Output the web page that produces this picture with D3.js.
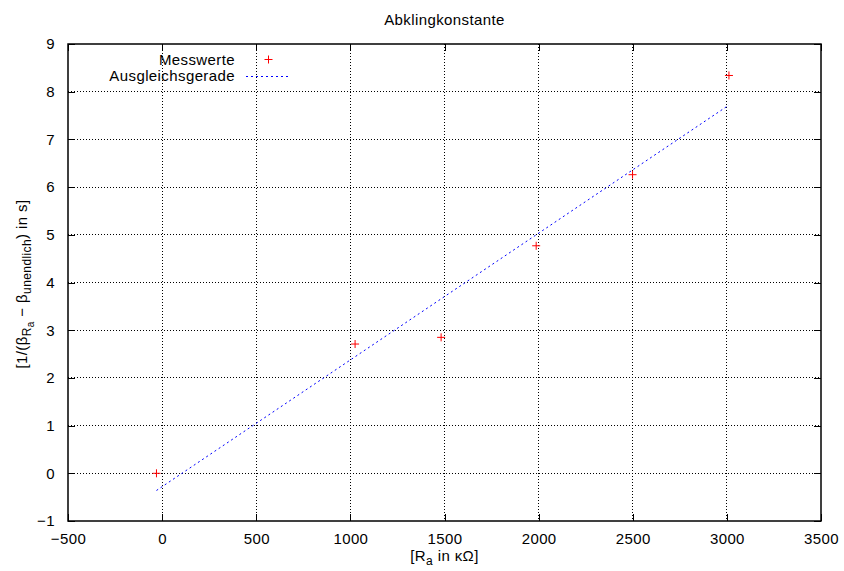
<!DOCTYPE html>
<html>
<head>
<meta charset="utf-8">
<script src="https://cdn.jsdelivr.net/npm/d3@7"></script>
<style>
	body{margin:0;background:#fff;}
	text{font-family:"Liberation Sans", Arial, Helvetica, sans-serif;font-size:15px;fill:#000;letter-spacing:0.4px;}
</style>
</head>
<body>
<div class="chart"></div>
<script>
//Data
const messR = [-30, 1025, 1482, 1987, 2499, 3011];
const messTau = [0, 2.71, 2.85, 4.77, 6.26, 8.34];
//ends of the fitted line (Ausgleichsgerade)
const fitR = [-30, 3011];
const fitTau = [-0.36, 7.72];

const xTicks = [-500, 0, 500, 1000, 1500, 2000, 2500, 3000, 3500];
const yTicks = [-1, 0, 1, 2, 3, 4, 5, 6, 7, 8, 9];

//Prep work
const W = 844, H = 571;
const margin = {t:44, r:23, b:50, l:68};
const w = W - margin.l - margin.r;
const h = H - margin.t - margin.b;

const svg = d3.select('.chart')
	.append('svg')
		.attr('width', W)
		.attr('height', H);

const plot = svg.append('g')
	.attr('class','plot')
	.attr('transform', `translate(${margin.l}, ${margin.t})`);

const scaleX = d3.scaleLinear().domain([-500, 3500]).range([0, w]);
const scaleY = d3.scaleLinear().domain([-1, 9]).range([h, 0]);

//Grid (dotted)
plot.selectAll('.gridx')
	.data(xTicks.slice(1, -1))
	.enter().append('line').attr('class','gridx')
	.attr('x1', d => scaleX(d)).attr('x2', d => scaleX(d))
	.attr('y1', 0).attr('y2', h);
plot.selectAll('.gridy')
	.data(yTicks.slice(1, -1))
	.enter().append('line').attr('class','gridy')
	.attr('y1', d => scaleY(d)).attr('y2', d => scaleY(d))
	.attr('x1', 0).attr('x2', w);
plot.selectAll('.gridx, .gridy')
	.style('stroke', '#000')
	.style('stroke-width', 1)
	.style('stroke-dasharray', '1,2')
	.attr('shape-rendering', 'crispEdges');

//Axes, ticks inward and mirrored
const tickLen = 7;
const fmt = d => d < 0 ? '\u2212' + (-d) : d;
plot.append('g')
	.attr('transform', `translate(0, ${h})`)
	.call(d3.axisBottom(scaleX).tickValues(xTicks).tickSize(-tickLen).tickPadding(tickLen + 5).tickFormat(fmt));
plot.append('g')
	.call(d3.axisTop(scaleX).tickValues(xTicks).tickSize(-tickLen).tickFormat(''));
plot.append('g')
	.call(d3.axisLeft(scaleY).tickValues(yTicks).tickSize(-tickLen).tickPadding(tickLen + 6).tickFormat(fmt));
plot.append('g')
	.attr('transform', `translate(${w}, 0)`)
	.call(d3.axisRight(scaleY).tickValues(yTicks).tickSize(-tickLen).tickFormat(''));

plot.selectAll('.domain').remove();
plot.selectAll('.tick line').style('stroke', '#000').style('stroke-width', 1).attr('shape-rendering', 'crispEdges');
plot.selectAll('.tick text')
	.style('font-size', '15px')
	.style('font-family', '"Liberation Sans", Arial, sans-serif')
	.style('letter-spacing', '0.4px')
	.attr('fill', '#000');

plot.append('rect')
	.attr('x', 0).attr('y', 0)
	.attr('width', w).attr('height', h)
	.style('fill', 'none')
	.style('stroke', '#000')
	.style('stroke-width', 1.5);

//Fit line
const fitData = fitR.map((r, i) => ({r: r, t: fitTau[i]}));
plot.append('path')
	.datum(fitData)
	.attr('d', d3.line().x(d => scaleX(d.r)).y(d => scaleY(d.t)))
	.style('fill', 'none')
	.style('stroke', '#0000ff')
	.style('stroke-width', 1)
	.style('stroke-dasharray', '2,3');

//Measured points as "+"
const messData = messR.map((r, i) => ({r: r, t: messTau[i]}));
const ps = 4;
const plus = function(sel){
	sel.append('path')
		.attr('d', `M${-ps},0H${ps}M0,${-ps}V${ps}`)
		.style('stroke', '#ff0000')
		.style('stroke-width', 1)
		.style('fill', 'none');
};
plot.selectAll('.pt')
	.data(messData)
	.enter().append('g').attr('class','pt')
	.attr('transform', d => `translate(${scaleX(d.r)}, ${scaleY(d.t)})`)
	.call(plus);

//Legend
const legend = plot.append('g').attr('class','legend');
legend.append('text')
	.attr('x', 167).attr('y', 21)
	.attr('text-anchor', 'end')
	.text('Messwerte');
legend.append('g')
	.attr('transform', 'translate(200.5, 15.5)')
	.call(plus);
legend.append('text')
	.attr('x', 167).attr('y', 37)
	.attr('text-anchor', 'end')
	.text('Ausgleichsgerade');
legend.append('line')
	.attr('x1', 178).attr('x2', 222)
	.attr('y1', 32.5).attr('y2', 32.5)
	.style('stroke', '#0000ff')
	.style('stroke-width', 1)
	.style('stroke-dasharray', '2,3');

//Title
svg.append('text')
	.attr('x', margin.l + w/2).attr('y', 25)
	.attr('text-anchor', 'middle')
	.text('Abklingkonstante');

//x label
const xl = svg.append('text')
	.attr('x', margin.l + w/2).attr('y', 561)
	.attr('text-anchor', 'middle');
xl.append('tspan').text('[R');
xl.append('tspan').attr('dy', 4).style('font-size', '12px').text('a');
xl.append('tspan').attr('dy', -4).text(' in \u03BA\u03A9]');

//y label
const yl = svg.append('text')
	.attr('transform', 'translate(27, 284) rotate(-90)')
	.attr('text-anchor', 'middle');
yl.append('tspan').text('[1/(\u03B2');
yl.append('tspan').attr('dy', 4).style('font-size', '12px').text('R');
yl.append('tspan').attr('dy', 3).style('font-size', '10px').text('a');
yl.append('tspan').attr('dy', -7).text(' \u2212 \u03B2');
yl.append('tspan').attr('dy', 4).style('font-size', '12px').text('unendlich');
yl.append('tspan').attr('dy', -4).text(') in s]');
</script>
</body>
</html>
